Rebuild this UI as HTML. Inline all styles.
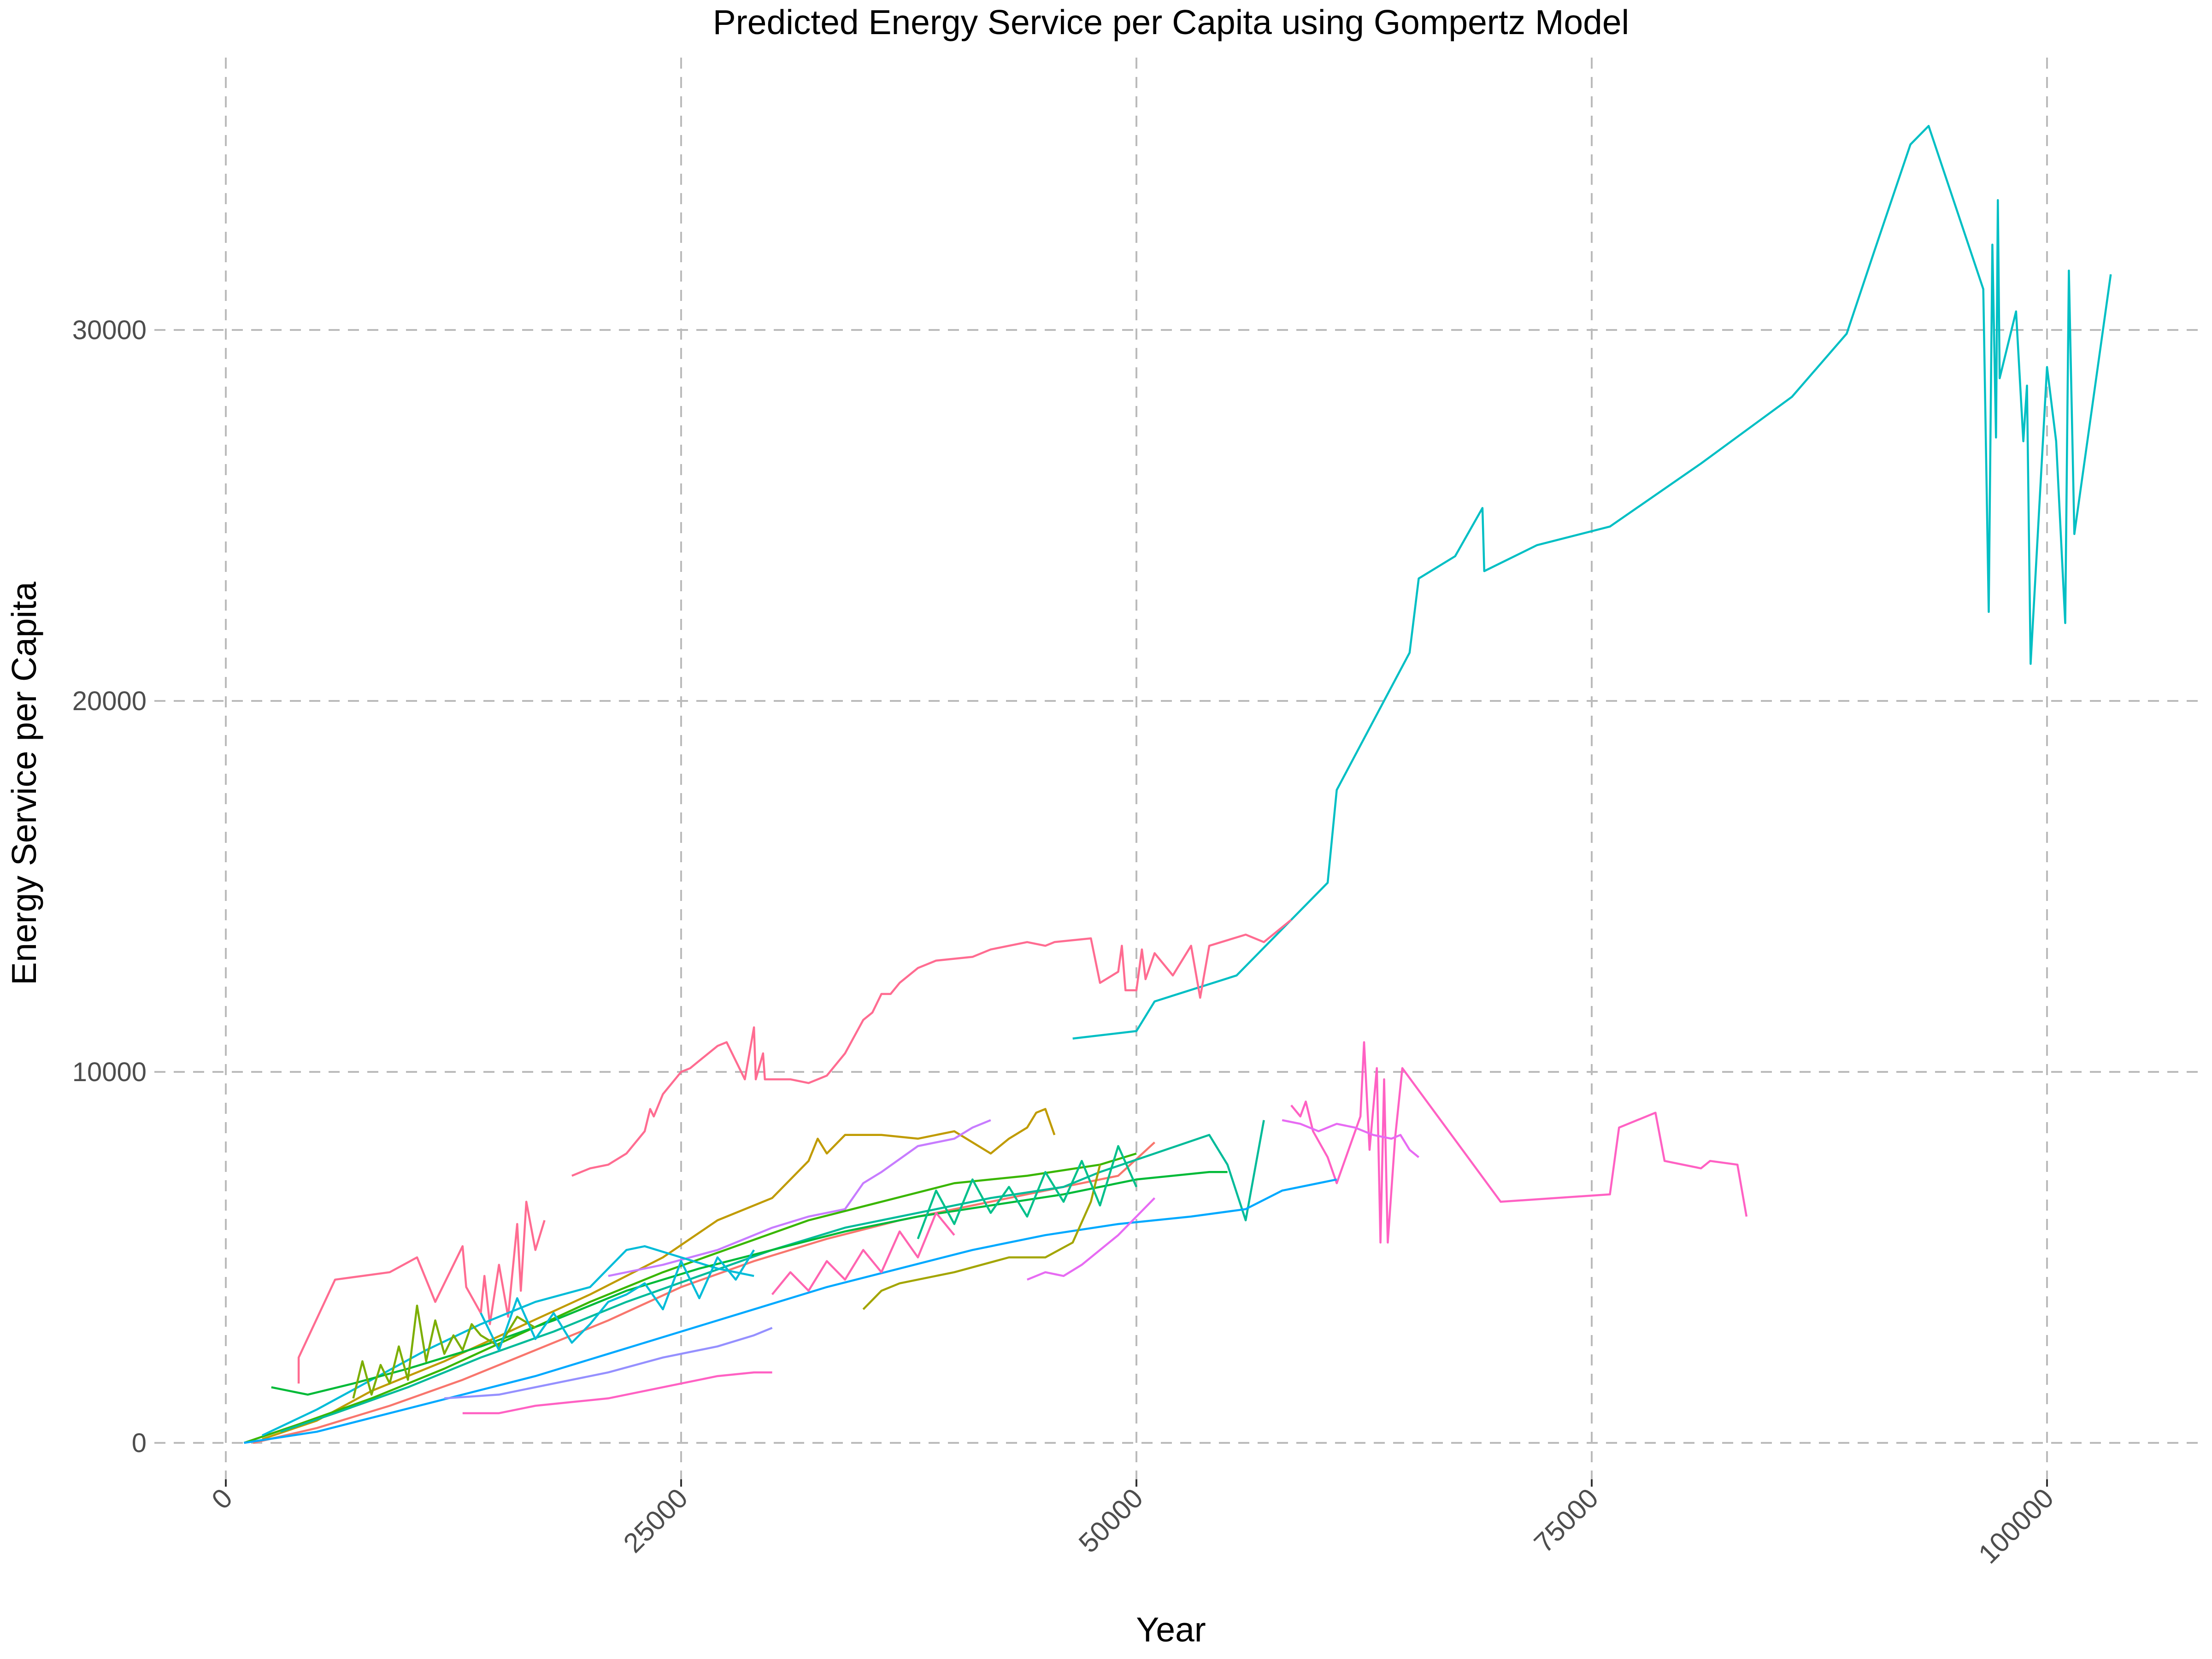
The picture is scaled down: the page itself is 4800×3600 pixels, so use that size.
<!DOCTYPE html>
<html><head><meta charset="utf-8"><style>
html,body{margin:0;padding:0;background:#fff;}
svg{display:block;font-family:"Liberation Sans",sans-serif;}
</style></head><body>
<svg id="chart" width="4800" height="3600" viewBox="0 0 4800 3600" xmlns="http://www.w3.org/2000/svg">
<rect width="4800" height="3600" fill="#fff"/>
<g id="grid"></g>
<g id="series"></g>
<g id="axes"></g>
<text x="2541" y="74" text-anchor="middle" font-size="75" fill="#000">Predicted Energy Service per Capita using Gompertz Model</text>
<text x="2541" y="3562" text-anchor="middle" font-size="75" fill="#000">Year</text>
<text transform="translate(78,1700) rotate(-90)" text-anchor="middle" font-size="75" fill="#000">Energy Service per Capita</text>
</svg>
<script>
const xTicks=[0,25000,50000,75000,100000];
const xTickLabels=["0","25000","50000","75000","100000"];
const yTicks=[0,10000,20000,30000];
const yTickLabels=["0","10000","20000","30000"];
// series values: x in thousands, y in thousands
const sCyanX=[46.5,50,51,55.5,60.5,61,65,65.5,67.5,69,69.1,72,76,81,86,89,90.5,92.5,93.5,96.5,96.8,97,97.2,97.3,97.4,98.3,98.7,98.9,99.1,100,100.5,101,101.2,101.5,103.5];
const sCyanY=[10.9,11.1,11.9,12.6,15.1,17.6,21.3,23.3,23.9,25.2,23.5,24.2,24.7,26.4,28.2,29.9,32.1,35,35.5,31.1,22.4,32.3,27.1,33.5,28.7,30.5,27,28.5,21,29,27,22.1,31.6,24.5,31.5];
const sPinkTopX=[19,20,21,22,23,23.3,23.5,24,25,25.5,26,27,27.5,28.5,29,29.1,29.5,29.6,31,32,33,34,35,35.5,36,36.5,37,38,39,41,42,44,45,45.5,47.5,48,49,49.2,49.4,50,50.3,50.5,51,52,53,53.5,54,56,57,58.5];
const sPinkTopY=[7.2,7.4,7.5,7.8,8.4,9,8.8,9.4,10,10.1,10.3,10.7,10.8,9.8,11.2,9.8,10.5,9.8,9.8,9.7,9.9,10.5,11.4,11.6,12.1,12.1,12.4,12.8,13,13.1,13.3,13.5,13.4,13.5,13.6,12.4,12.7,13.4,12.2,12.2,13.3,12.5,13.2,12.6,13.4,12,13.4,13.7,13.5,14.1];
const sPinkRX=[58.5,59,59.3,59.7,60.5,61,62.3,62.5,62.8,63.2,63.4,63.6,63.8,64.2,64.6,70,76,76.5,78.5,79,81,81.5,83,83.5];
const sPinkRY=[9.1,8.8,9.2,8.4,7.7,7,8.8,10.8,7.9,10.1,5.4,9.8,5.4,8.2,10.1,6.5,6.7,8.5,8.9,7.6,7.4,7.6,7.5,6.1];
const sMagRX=[58,59,60,61,62,63,64,64.5,65,65.5];
const sMagRY=[8.7,8.6,8.4,8.6,8.5,8.3,8.2,8.3,7.9,7.7];
const sPinkLX=[4,4,6,9,10.5,11.5,13,13.2,14,14.2,14.5,15,15.5,16,16.2,16.5,17,17.5];
const sPinkLY=[1.6,2.3,4.4,4.6,5,3.8,5.3,4.2,3.5,4.5,3.2,4.8,3.4,5.9,4.1,6.5,5.2,6];
const sOliveX=[2,5,8,12,16,20,24,27,30,32,32.5,33,34,36,38,40,42,43,44,44.5,45,45.5];
const sOliveY=[0.1,0.6,1.4,2.2,3.1,4,5,6,6.6,7.6,8.2,7.8,8.3,8.3,8.2,8.4,7.8,8.2,8.5,8.9,9,8.3];
const sPurpleX=[21,24,27,30,32,34,35,36,38,40,41,42];
const sPurpleY=[4.5,4.8,5.2,5.8,6.1,6.3,7,7.3,8,8.2,8.5,8.7];
const sGreenX=[1,4,8,12,16,20,24,28,32,36,40,44,48,50];
const sGreenY=[0,0.5,1.2,2,2.9,3.8,4.6,5.3,6,6.5,7,7.2,7.5,7.8];
const sOrangeX=[1.5,5,9,13,17,21,25,29,33,37,41,45,49,51];
const sOrangeY=[0,0.4,1,1.7,2.5,3.3,4.2,4.9,5.5,6,6.4,6.8,7.2,8.1];
const sTealX=[3,6,10,14,18,22,26,30,34,38,42,46,48,51,54,55,56,57];
const sTealY=[0.3,0.8,1.5,2.3,3,3.8,4.5,5.2,5.8,6.2,6.6,6.9,7.3,7.8,8.3,7.5,6,8.7];
const sBlueX=[1,5,9,13,17,21,25,29,33,37,41,45,49,53,56,58,60,61];
const sBlueY=[0,0.3,0.8,1.3,1.8,2.4,3,3.6,4.2,4.7,5.2,5.6,5.9,6.1,6.3,6.8,7,7.1];
const sLavX=[12,15,18,21,24,27,29,30];
const sLavY=[1.2,1.3,1.6,1.9,2.3,2.6,2.9,3.1];
const sHotPinkX=[13,15,17,19,21,23,25,27,29,30];
const sHotPinkY=[0.8,0.8,1,1.1,1.2,1.4,1.6,1.8,1.9,1.9];
const sCyan2X=[2,5,8,11,14,17,20,22,23,25,27,29];
const sCyan2Y=[0.2,0.9,1.7,2.5,3.2,3.8,4.2,5.2,5.3,5,4.7,4.5];
const sGreen2X=[2.5,4.5,7,10,14,18,22,26,30,34,38,42,46,50,54,55];
const sGreen2Y=[1.5,1.3,1.6,2,2.6,3.3,4.1,4.7,5.2,5.7,6.1,6.4,6.7,7.1,7.3,7.3];
const sOlive2X=[35,36,37,40,43,45,46.5,47.5,48];
const sOlive2Y=[3.6,4.1,4.3,4.6,5,5,5.4,6.5,7.5];
const sViolet2X=[44,45,46,47,48,49,50,51];
const sViolet2Y=[4.4,4.6,4.5,4.8,5.2,5.6,6.1,6.6];
const sJag1X=[7,7.5,8,8.5,9,9.5,10,10.5,11,11.5,12,12.5,13,13.5,14,15,16,17];
const sJag1Y=[1.2,2.2,1.3,2.1,1.6,2.6,1.7,3.7,2.2,3.3,2.4,2.9,2.5,3.2,2.9,2.6,3.4,3.1];
const sJag2X=[14,15,16,17,18,19,20,21,22,23,24,25,26,27,28,29];
const sJag2Y=[3.5,2.5,3.9,2.8,3.5,2.7,3.2,3.8,4.0,4.3,3.6,4.9,3.9,5.0,4.4,5.2];
const sJag3X=[38,39,40,41,42,43,44,45,46,47,48,49,50];
const sJag3Y=[5.5,6.8,5.9,7.1,6.2,6.9,6.1,7.3,6.5,7.6,6.4,8.0,6.9];
const sJag4X=[30,31,32,33,34,35,36,37,38,39,40];
const sJag4Y=[4.0,4.6,4.1,4.9,4.4,5.2,4.6,5.7,5.0,6.2,5.6];
const seriesList=[
 [sCyanX,sCyanY,"#00BFC4"],[sPinkTopX,sPinkTopY,"#FF6C91"],[sPinkRX,sPinkRY,"#FF61C3"],
 [sMagRX,sMagRY,"#E76BF3"],[sPinkLX,sPinkLY,"#FF6C91"],[sOliveX,sOliveY,"#C09B00"],
 [sPurpleX,sPurpleY,"#C77CFF"],[sGreenX,sGreenY,"#39B600"],[sOrangeX,sOrangeY,"#F8766D"],
 [sTealX,sTealY,"#00BB99"],[sBlueX,sBlueY,"#00A9FF"],[sLavX,sLavY,"#9590FF"],
 [sHotPinkX,sHotPinkY,"#FF61C3"],[sCyan2X,sCyan2Y,"#00BCD8"],[sGreen2X,sGreen2Y,"#00BA38"],
 [sOlive2X,sOlive2Y,"#A3A500"],[sViolet2X,sViolet2Y,"#E76BF3"],
 [sJag1X,sJag1Y,"#7CAE00"],[sJag2X,sJag2Y,"#00BCD8"],[sJag3X,sJag3Y,"#00C08B"],[sJag4X,sJag4Y,"#FF64B0"]
];
const NS="http://www.w3.org/2000/svg";
function X(v){return 490+v*(988/25000);}
function Y(v){return 3131-v*(805/10000);}
const grid=document.getElementById('grid'),axes=document.getElementById('axes'),ser=document.getElementById('series');
xTicks.forEach((t,i)=>{
 const l=document.createElementNS(NS,'line');
 l.setAttribute('x1',X(t));l.setAttribute('x2',X(t));l.setAttribute('y1',125);l.setAttribute('y2',3210);
 l.setAttribute('stroke','#bbb');l.setAttribute('stroke-width',4);l.setAttribute('stroke-dasharray','24,18');
 
 
 grid.appendChild(l);
 const tk=document.createElementNS(NS,'line');
 tk.setAttribute('x1',X(t));tk.setAttribute('x2',X(t));tk.setAttribute('y1',3210);tk.setAttribute('y2',3226);
 tk.setAttribute('stroke','#333');tk.setAttribute('stroke-width',4);
 
 
 axes.appendChild(tk);
 const tx=document.createElementNS(NS,'text');
 tx.setAttribute('transform','translate('+(X(t)+18)+',3255) rotate(-45)');
 tx.setAttribute('text-anchor','end');tx.setAttribute('font-size','60');tx.setAttribute('fill','#4d4d4d');
 tx.textContent=xTickLabels[i];
 
 
 axes.appendChild(tx);
});
yTicks.forEach((t,i)=>{
 const l=document.createElementNS(NS,'line');
 l.setAttribute('x1',335);l.setAttribute('x2',4780);l.setAttribute('y1',Y(t));l.setAttribute('y2',Y(t));
 l.setAttribute('stroke','#bbb');l.setAttribute('stroke-width',4);l.setAttribute('stroke-dasharray','24,18');
 
 
 grid.appendChild(l);
 const tx=document.createElementNS(NS,'text');
 tx.setAttribute('x',318);tx.setAttribute('y',Y(t)+20);
 tx.setAttribute('text-anchor','end');tx.setAttribute('font-size','58');tx.setAttribute('fill','#4d4d4d');
 tx.textContent=yTickLabels[i];
 
 
 axes.appendChild(tx);
});
seriesList.forEach((s,k)=>{
 const xs=s[0],ys=s[1];
 let d='';
 for(let i=0;i<xs.length;i++){d+=(i?'L':'M')+X(xs[i]*1000).toFixed(1)+','+Y(ys[i]*1000).toFixed(1);}
 const p=document.createElementNS(NS,'path');
 p.setAttribute('d',d);p.setAttribute('fill','none');p.setAttribute('stroke',s[2]);p.setAttribute('stroke-width',4.5);
 p.setAttribute('stroke-linejoin','round');
 
 
 ser.appendChild(p);
});
</script>
</body></html>
